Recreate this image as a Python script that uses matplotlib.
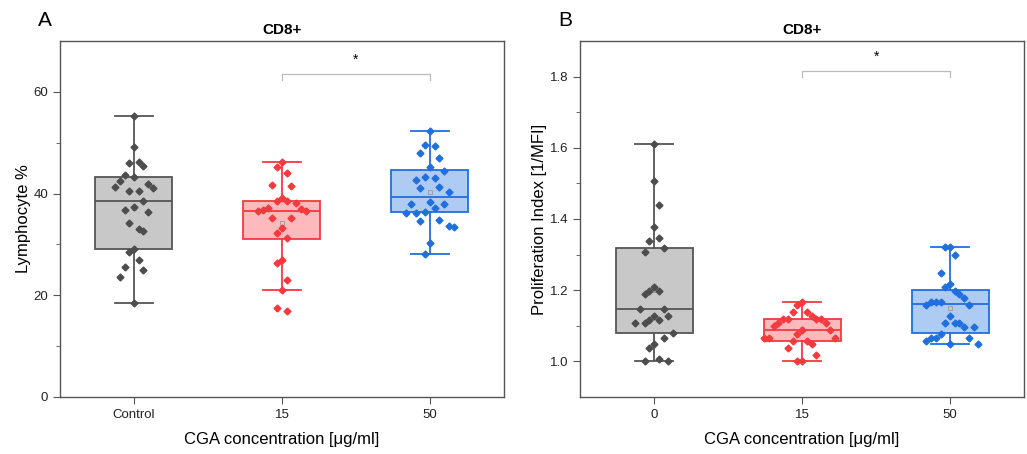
import matplotlib
matplotlib.use("Agg")
import matplotlib.pyplot as plt
import numpy as np

plt.rcParams["font.family"] = ["Liberation Sans", "DejaVu Sans"]

# ---- data ----
cats_a = ["Control", "15", "50"]
cats_b = ["0", "15", "50"]

a_control = [55.2, 49.1, 46.3, 46.0, 45.4, 43.3, 43.7, 42.5, 40.6, 41.0, 41.8, 41.2, 40.5,
             38.5, 37.3, 36.8, 36.3, 34.3, 33.0, 32.7, 28.6, 29.0, 26.9, 25.0, 25.5, 23.6, 18.4]
a_15 = [46.3, 45.3, 44.1, 41.4, 41.7, 39.1, 38.5, 38.6, 38.2, 37.1, 36.6, 36.5, 36.9,
        36.8, 35.2, 35.2, 33.3, 32.2, 31.2, 27.0, 26.3, 23.1, 21.0, 17.5, 16.9]
a_50 = [52.3, 49.3, 49.5, 48.0, 46.9, 45.2, 44.5, 43.0, 43.3, 42.7, 41.1, 41.3, 40.3,
        38.0, 38.3, 38.0, 37.1, 36.2, 36.1, 36.4, 34.8, 34.7, 33.7, 33.4, 30.3, 28.2]

b_0 = [1.61, 1.508, 1.438, 1.377, 1.347, 1.339, 1.318, 1.308, 1.209, 1.197, 1.197, 1.188,
       1.148, 1.148, 1.117, 1.108, 1.108, 1.117, 1.128, 1.128, 1.079, 1.067, 1.048, 1.037,
       1.008, 1.0, 1.0]
b_15 = [1.168, 1.158, 1.138, 1.138, 1.128, 1.118, 1.118, 1.118, 1.118, 1.109, 1.109, 1.098,
        1.087, 1.087, 1.078, 1.067, 1.067, 1.067, 1.057, 1.057, 1.048, 1.037, 1.018, 1.0, 1.0]
b_50 = [1.32, 1.32, 1.299, 1.248, 1.218, 1.208, 1.197, 1.188, 1.178, 1.168, 1.168, 1.168,
        1.158, 1.158, 1.127, 1.108, 1.108, 1.097, 1.108, 1.097, 1.078, 1.067, 1.067, 1.067,
        1.058, 1.048, 1.048]

# box statistics as drawn (q1, median, q3, whisker low, whisker high, mean)
a_q1 = [29.1, 31.1, 36.3]
a_med = [38.6, 36.6, 39.3]
a_q3 = [43.3, 38.6, 44.6]
a_wlo = [18.4, 21.0, 28.2]
a_whi = [55.2, 46.3, 52.3]
a_mean = [37.2, 34.3, 40.3]

b_q1 = [1.080, 1.058, 1.079]
b_med = [1.148, 1.089, 1.160]
b_q3 = [1.319, 1.118, 1.200]
b_wlo = [1.0, 1.0, 1.048]
b_whi = [1.61, 1.168, 1.32]
b_mean = [1.20, 1.09, 1.151]

edge_colors = ["#555555", "#F23A3F", "#1F6FE0"]
fill_colors = ["#C8C8C8", "#FDB9BB", "#AECBF3"]
pt_colors = ["#4D4D4D", "#F23A3F", "#1F6FE0"]
frame_col = "#555555"


def swarm(vals, min_dy, step=0.032):
    # deterministic spread: alternate sides, columns of width `step`
    order = np.argsort(vals)[::-1]
    placed = []
    offs = np.zeros(len(vals))
    cols = [0]
    for k in range(1, 9):
        cols += [k, -k]
    for n, i in enumerate(order):
        v = vals[i]
        cands = cols if n % 2 == 0 else [-c for c in cols]
        for c in cands:
            if all(not (pc == c and abs(pv - v) < min_dy) for pc, pv in placed):
                placed.append((c, v))
                offs[i] = c * step
                break
    return offs


def draw_panel(ax, groups, q1, med, q3, wlo, whi, mean, min_dy):
    for i in range(3):
        st = dict(q1=q1[i], med=med[i], q3=q3[i], whislo=wlo[i], whishi=whi[i],
                  mean=mean[i], fliers=[])
        ax.bxp([st], positions=[i], widths=0.52, showmeans=True, patch_artist=True,
               boxprops=dict(facecolor=fill_colors[i], edgecolor=edge_colors[i], linewidth=1.3),
               medianprops=dict(color=edge_colors[i], linewidth=1.3),
               whiskerprops=dict(color=edge_colors[i], linewidth=1.3),
               capprops=dict(color=edge_colors[i], linewidth=1.3),
               meanprops=dict(marker="s", markersize=3, markerfacecolor="none",
                              markeredgecolor="#999999", markeredgewidth=0.6),
               manage_ticks=False)
        vals = np.array(groups[i])
        ax.plot(i + swarm(vals, min_dy), vals, "D", color=pt_colors[i], markersize=3.5,
                linestyle="none", zorder=5)
    ax.set_xlim(-0.5, 2.5)
    for s in ax.spines.values():
        s.set_color(frame_col)
        s.set_linewidth(1.0)
    ax.tick_params(axis="both", direction="out", color=frame_col, labelsize=9.5,
                   labelcolor="#222222", length=5)
    ax.tick_params(which="minor", direction="out", color=frame_col, length=3)
    ax.tick_params(top=False, right=False)


fig = plt.figure(figsize=(10.27, 4.54), dpi=100)
ax1 = fig.add_axes([0.0584, 0.1256, 0.4323, 0.7841])
ax2 = fig.add_axes([0.5648, 0.1256, 0.4323, 0.7841])

draw_panel(ax1, [a_control, a_15, a_50], a_q1, a_med, a_q3, a_wlo, a_whi, a_mean, 5.5)
ax1.set_ylim(0, 70)
ax1.set_yticks([0, 20, 40, 60])
ax1.set_yticks([10, 30, 50], minor=True)
ax1.set_xticks([0, 1, 2])
ax1.set_xticklabels(cats_a)
ax1.set_ylabel("Lymphocyte %", fontsize=12, labelpad=2)
ax1.set_xlabel("CGA concentration [μg/ml]", fontsize=12, labelpad=8)
ax1.set_title("CD8+", fontsize=11, fontweight="bold", pad=5)

draw_panel(ax2, [b_0, b_15, b_50], b_q1, b_med, b_q3, b_wlo, b_whi, b_mean, 0.075)
ax2.set_ylim(0.9, 1.9)
ax2.set_yticks([1.0, 1.2, 1.4, 1.6, 1.8])
ax2.set_yticks([1.1, 1.3, 1.5, 1.7], minor=True)
ax2.set_xticks([0, 1, 2])
ax2.set_xticklabels(cats_b)
ax2.set_ylabel("Proliferation Index [1/MFI]", fontsize=12, labelpad=2)
ax2.set_xlabel("CGA concentration [μg/ml]", fontsize=12, labelpad=8)
ax2.set_title("CD8+", fontsize=11, fontweight="bold", pad=5)

# significance brackets
for ax, y, h in [(ax1, 63.5, 1.2), (ax2, 1.815, 0.017)]:
    ax.plot([1, 1, 2, 2], [y - h, y, y, y - h], color="#BBBBBB", linewidth=0.9)
    ax.text(1.5, y + h * 1.2, "*", ha="center", va="bottom", fontsize=10)

fig.text(0.044, 0.955, "A", fontsize=15, ha="center", va="center")
fig.text(0.550, 0.955, "B", fontsize=15, ha="center", va="center")

fig.savefig("out.png", dpi=100)
